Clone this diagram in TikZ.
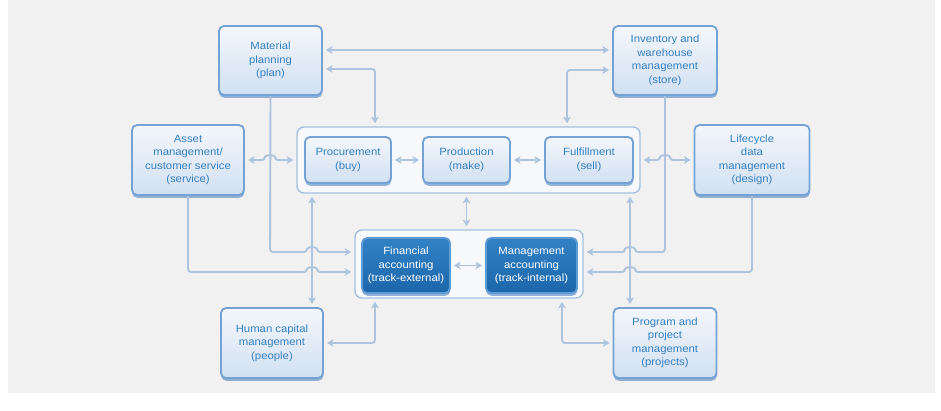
\documentclass[tikz,border=0pt]{standalone}
\usepackage{fontspec}
\newfontfamily\diagfont[FakeStretch=1.08]{Liberation Sans}
\usetikzlibrary{shadows,arrows.meta,calc}
\definecolor{bg}{HTML}{F1F1F1}
\definecolor{linec}{HTML}{ADC3DE}
\definecolor{boxborder}{HTML}{74A2D4}
\definecolor{boxtop}{HTML}{F3F7FC}
\definecolor{boxbot}{HTML}{D1E0F1}
\definecolor{boxtext}{HTML}{3580C2}
\definecolor{shadowc}{HTML}{4F84BE}
\definecolor{darktop}{HTML}{3382C6}
\definecolor{darkbot}{HTML}{1C66AA}
\definecolor{darkborder}{HTML}{5E9BD4}
\definecolor{contborder}{HTML}{A6C1DF}
\definecolor{contfill}{HTML}{F6F8FB}
\begin{document}
\begin{tikzpicture}[x=1pt,y=-1pt,
  conn/.style={draw=linec, line width=1.9pt, rounded corners=3pt},
  tip/.tip={Stealth[length=6.5pt,width=7.5pt,inset=1.5pt]},
  bi/.style={conn, tip-tip, shorten <=3pt, shorten >=3pt},
  one/.style={conn, -tip, shorten >=3pt},
  boxbase/.style={rounded corners=5pt, line width=1.8pt, align=center,
    font=\diagfont\fontsize{10.5pt}{13.5pt}\selectfont, inner sep=2pt,
    drop shadow={shadow xshift=0.3pt, shadow yshift=-2.8pt, fill=shadowc, opacity=.6}},
  lbox/.style={boxbase, draw=boxborder, top color=boxtop, bottom color=boxbot, text=boxtext},
  dbox/.style={boxbase, draw=darkborder, top color=darktop, bottom color=darkbot, text=white},
  cont/.style={rounded corners=7pt, draw=contborder, line width=1.4pt, fill=contfill}
]
\useasboundingbox (0,0) rectangle (941,410);
\fill[bg] (8,0) rectangle (935,393);

% containers
\node[cont, minimum width=343pt, minimum height=66pt] (ops) at (468.5,160) {};
\node[cont, minimum width=228pt, minimum height=68pt] (acct) at (469,264) {};

% outer boxes
\node[lbox, minimum width=103pt, minimum height=69pt] (mat) at (270.5,60.5) {Material\\planning\\(plan)};
\node[lbox, minimum width=104pt, minimum height=69pt] (inv) at (665,60.5) {Inventory and\\warehouse\\management\\(store)};
\node[lbox, minimum width=112pt, minimum height=70pt] (asset) at (188,160) {Asset\\management/\\customer service\\(service)};
\node[lbox, minimum width=115pt, minimum height=70pt] (life) at (752,160) {Lifecycle\\data\\management\\(design)};
\node[lbox, minimum width=102pt, minimum height=70pt] (hum) at (272,343) {Human capital\\management\\(people)};
\node[lbox, minimum width=103pt, minimum height=70pt] (prog) at (665,343) {Program and\\project\\management\\(projects)};

% inner boxes
\node[lbox, minimum width=86pt, minimum height=46pt] (proc) at (348,160) {Procurement\\(buy)};
\node[lbox, minimum width=87pt, minimum height=46pt] (prod) at (466.5,160) {Production\\(make)};
\node[lbox, minimum width=88pt, minimum height=46pt] (ful) at (589,160) {Fulfillment\\(sell)};
\node[dbox, minimum width=88pt, minimum height=55pt] (fin) at (406,265.5) {Financial\\accounting\\(track-external)};
\node[dbox, minimum width=91pt, minimum height=55pt] (mgmt) at (531.5,265.5) {Management\\accounting\\(track-internal)};

% connectors
\draw[bi] (mat.east |- 0,50) -- (inv.west |- 0,50);
\draw[bi] (mat.east |- 0,69) -- (375,69) -- (ops.north -| 375,0);
\draw[bi] (inv.west |- 0,70) -- (567,70) -- (ops.north -| 567,0);

\draw[one] (mat.south) -- (270,252) -- (307,252) .. controls (307,246.5) and (317,246.5) .. (317,252) -- (acct.west |- 0,252);
\draw[one] (asset.south) -- (188,272) -- (307,272) .. controls (307,266.5) and (317,266.5) .. (317,272) -- (acct.west |- 0,272);
\draw[bi] (asset.east) -- (265,160) .. controls (265,154.5) and (275,154.5) .. (275,160) -- (ops.west);
\draw[bi] (ops.south -| 312,0) -- (hum.north -| 312,0);
\draw[bi] (hum.east) -- (375,343) -- (acct.south -| 375,0);

\draw[bi] (proc.east) -- (prod.west);
\draw[bi] (prod.east) -- (ful.west);
\draw[bi] (fin.east) -- (mgmt.west);
\draw[bi] (ops.south -| prod.south) -- (acct.north -| prod.south);

\draw[one] (inv.south) -- (665,252) -- (635,252) .. controls (635,246.5) and (625,246.5) .. (625,252) -- (acct.east |- 0,252);
\draw[one] (life.south) -- (752,272) -- (635,272) .. controls (635,266.5) and (625,266.5) .. (625,272) -- (acct.east |- 0,272);
\draw[bi] (ops.east) -- (660,160) .. controls (660,154.5) and (670,154.5) .. (670,160) -- (life.west);
\draw[bi] (ops.south -| 630,0) -- (prog.north -| 630,0);
\draw[bi] (acct.south -| 562,0) -- (562,343) -- (prog.west);
\end{tikzpicture}
\end{document}
